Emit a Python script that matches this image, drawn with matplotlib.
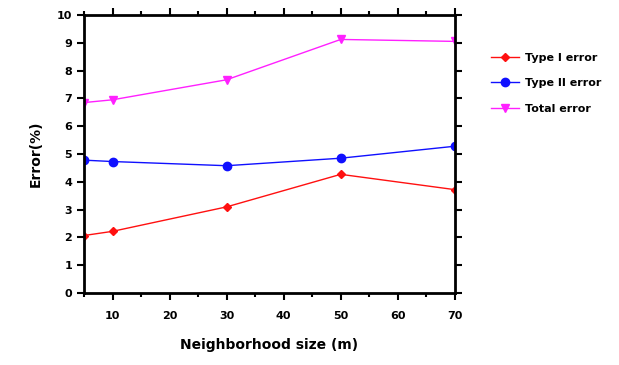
import matplotlib.pyplot as plt
from matplotlib.ticker import MultipleLocator

sizes = [5, 10, 30, 50, 70]
type1 = [2.07, 2.22, 3.10, 4.27, 3.72]
type2 = [4.78, 4.73, 4.58, 4.85, 5.28]
total = [6.85, 6.95, 7.67, 9.12, 9.05]

plt.rcParams['font.family'] = 'DejaVu Sans'
plt.rcParams['font.weight'] = 'bold'

fig = plt.figure(figsize=(6.19, 3.65), dpi=100)
ax = fig.add_axes([0.1357, 0.197, 0.599, 0.762])

ax.plot(sizes, type1, color='#ff1010', marker='D', markersize=4.5, linewidth=1, label='Type I error')
ax.plot(sizes, type2, color='#1010ff', marker='o', markersize=6, linewidth=1, label='Type II error')
ax.plot(sizes, total, color='#ff20ff', marker='v', markersize=6, linewidth=1, label='Total error')

ax.set_xlim(5, 70)
ax.set_ylim(0, 10)
ax.xaxis.set_major_locator(MultipleLocator(10))
ax.xaxis.set_minor_locator(MultipleLocator(5))
ax.yaxis.set_major_locator(MultipleLocator(1))
ax.set_xticks([10, 20, 30, 40, 50, 60, 70])

for s in ax.spines.values():
    s.set_linewidth(2)
ax.tick_params(which='both', direction='out', top=True, right=True, width=1.5)
ax.tick_params(which='major', length=5, labelsize=8)
ax.tick_params(which='minor', length=3)
ax.tick_params(axis='x', pad=8)

ax.set_xlabel('Neighborhood size (m)', fontsize=10, fontweight='bold', labelpad=12)
ax.set_ylabel('Error(%)', fontsize=10, fontweight='bold', labelpad=10)

ax.legend(loc='upper left', bbox_to_anchor=(1.07, 0.9), frameon=False, fontsize=8,
          handlelength=2.5, handletextpad=0.6, labelspacing=1.4)

fig.savefig('out.png', dpi=100)
